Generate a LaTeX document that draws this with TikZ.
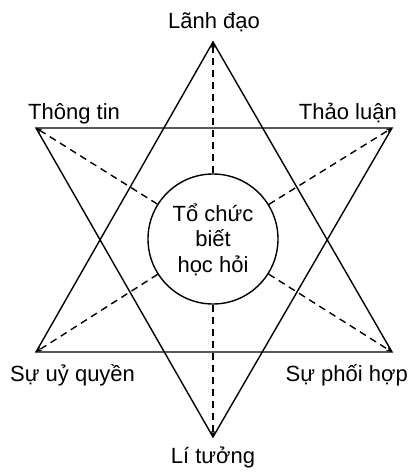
\documentclass[tikz,border=0pt]{standalone}
\usepackage{fontspec}
\setmainfont{Liberation Sans}
\usetikzlibrary{arrows.meta}
\begin{document}
\begin{tikzpicture}[x=1pt,y=-1pt,
  edge/.style={line width=1.4pt},
  spoke/.style={line width=1.4pt, dash pattern=on 7pt off 5pt, -{Stealth[length=6pt,width=4.5pt]}},
  lbl/.style={font=\fontsize{22}{26}\selectfont, inner sep=0pt}]
\useasboundingbox (0,0) rectangle (411,473);
\coordinate (T) at (213,42);
\coordinate (B) at (213,437);
\coordinate (UL) at (36,128);
\coordinate (UR) at (392,128);
\coordinate (LL) at (36,352);
\coordinate (LR) at (392,352);
\draw[edge, line join=miter] (T) -- (LL) -- (LR) -- cycle;
\draw[edge, line join=miter] (UL) -- (UR) -- (B) -- cycle;
\node[circle, draw, line width=1.4pt, fill=white, minimum size=130pt, inner sep=0pt] (c) at (213,239) {};
\foreach \v in {T,B,UL,UR,LL,LR} \draw[spoke] (c) -- (\v);
\node[lbl, anchor=base] (t1) at (213,221) {Tổ chức};
\node[lbl, anchor=base] (t2) at (213,246) {biết};
\node[lbl, anchor=base] (t3) at (213,272) {học hỏi};
\node[lbl, anchor=base] (lT) at (214,29) {Lãnh đạo};
\node[lbl, anchor=base west] (lUL) at (28,120) {Thông tin};
\node[lbl, anchor=base east] (lUR) at (397,120) {Thảo luận};
\node[lbl, anchor=base west] (lLL) at (10,381) {Sự uỷ quyền};
\node[lbl, anchor=base east] (lLR) at (408,381) {Sự phối hợp};
\node[lbl, anchor=base] (lB) at (213,463) {Lí tưởng};
\end{tikzpicture}
\end{document}
